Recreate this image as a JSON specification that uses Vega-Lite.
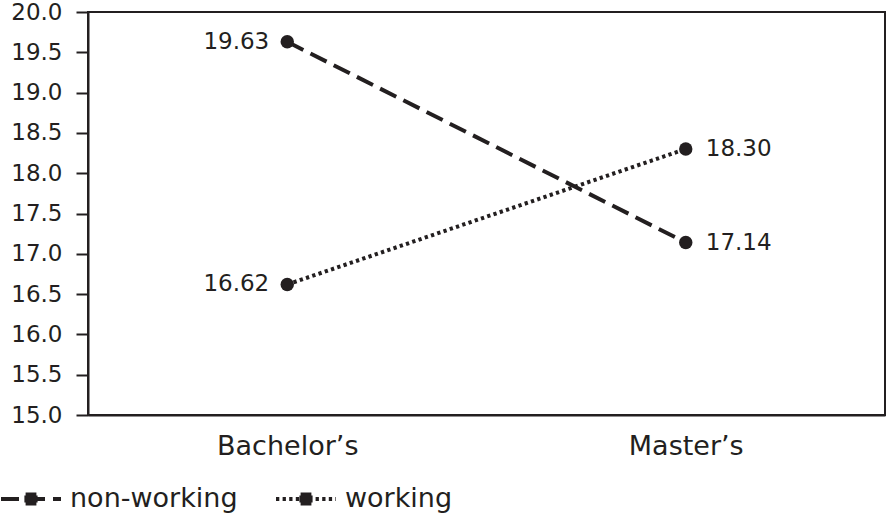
{
  "$schema": "https://vega.github.io/schema/vega-lite/v6.json",
  "width": 797,
  "height": 403,
  "autosize": {"type": "none"},
  "padding": {"left": 88, "top": 12, "right": 2, "bottom": 103},
  "background": "white",
  "config": {
    "view": {"stroke": "#231f20", "strokeWidth": 2},
    "font": "DejaVu Sans"
  },
  "data": {
    "values": [
      {"degree": "Bachelor’s", "group": "non-working", "value": 19.63},
      {"degree": "Master’s", "group": "non-working", "value": 17.14},
      {"degree": "Bachelor’s", "group": "working", "value": 16.62},
      {"degree": "Master’s", "group": "working", "value": 18.30}
    ]
  },
  "encoding": {
    "x": {
      "field": "degree", "type": "nominal", "sort": ["Bachelor’s", "Master’s"],
      "scale": {"type": "point", "padding": 0.5},
      "axis": {
        "title": null, "labelAngle": 0, "ticks": false, "labelPadding": 18,
        "labelFont": "DejaVu Sans", "labelFontSize": 27, "labelColor": "#231f20",
        "domainColor": "#231f20", "domainWidth": 2, "grid": false
      }
    },
    "y": {
      "field": "value", "type": "quantitative",
      "scale": {"domain": [15, 20], "nice": false, "zero": false},
      "axis": {
        "title": null, "values": [15, 15.5, 16, 16.5, 17, 17.5, 18, 18.5, 19, 19.5, 20],
        "format": ".1f", "tickSize": 12, "tickWidth": 2, "tickColor": "#231f20",
        "labelPadding": 14, "labelFont": "DejaVu Sans", "labelFontSize": 23, "labelColor": "#231f20",
        "domainColor": "#231f20", "domainWidth": 2, "grid": false
      }
    }
  },
  "layer": [
    {
      "mark": {"type": "line", "color": "#231f20", "strokeWidth": 4, "strokeCap": "butt"},
      "encoding": {
        "strokeDash": {
          "field": "group", "type": "nominal",
          "scale": {"domain": ["non-working", "working"], "range": [[18, 8], [3.3, 3.3]]},
          "legend": {
            "orient": "none", "legendX": -89, "legendY": 455, "direction": "horizontal",
            "title": null, "labelFont": "DejaVu Sans", "labelFontSize": 27, "labelColor": "#231f20",
            "labelLimit": 400, "labelOffset": 7, "columnPadding": 30, "symbolSize": 3600,
            "symbolType": "M-1,0H1M-0.18,-0.15H-0.085M-0.095,-0.15H0.005M-0.005,-0.15H0.095M0.085,-0.15H0.18M-0.18,0.15H-0.085M-0.095,0.15H0.005M-0.005,0.15H0.095M0.085,0.15H0.18M-0.22,-0.05H-0.125M-0.135,-0.05H-0.035M-0.045,-0.05H0.045M0.035,-0.05H0.135M0.125,-0.05H0.22M-0.22,0.05H-0.125M-0.135,0.05H-0.035M-0.045,0.05H0.045M0.035,0.05H0.135M0.125,0.05H0.22",
            "symbolStrokeWidth": 4, "symbolStrokeColor": "#231f20", "symbolFillColor": "#231f20", "symbolOpacity": 1
          }
        }
      }
    },
    {
      "mark": {"type": "point", "filled": true, "size": 180, "color": "#231f20", "opacity": 1}
    },
    {
      "transform": [{"filter": "datum.degree === 'Bachelor’s'"}],
      "mark": {"type": "text", "align": "right", "baseline": "middle", "dx": -18, "fontSize": 23, "font": "DejaVu Sans", "color": "#231f20"},
      "encoding": {"text": {"field": "value", "type": "quantitative", "format": ".2f"}}
    },
    {
      "transform": [{"filter": "datum.degree === 'Master’s'"}],
      "mark": {"type": "text", "align": "left", "baseline": "middle", "dx": 20, "fontSize": 23, "font": "DejaVu Sans", "color": "#231f20"},
      "encoding": {"text": {"field": "value", "type": "quantitative", "format": ".2f"}}
    }
  ]
}
